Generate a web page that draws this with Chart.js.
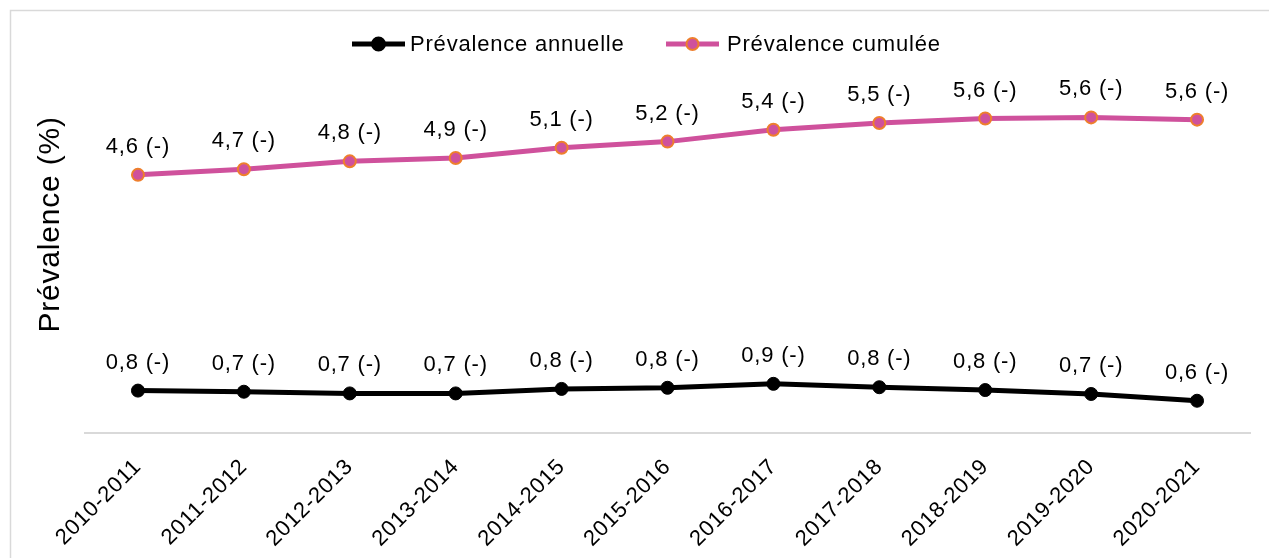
<!DOCTYPE html>
<html>
<head>
<meta charset="utf-8">
<script src="https://cdn.jsdelivr.net/npm/chart.js@4.4.0/dist/chart.umd.min.js"></script>
<style>
  html, body { margin: 0; padding: 0; background: #fff; }
  #box { width: 1269px; height: 558px; }
</style>
</head>
<body>
<div id="box"><canvas id="grafica" width="1269" height="558"></canvas></div>
<script>
const categories = ['2010-2011', '2011-2012', '2012-2013', '2013-2014', '2014-2015', '2015-2016',
    '2016-2017', '2017-2018', '2018-2019', '2019-2020', '2020-2021'];
const annuelle = [0.75, 0.73, 0.70, 0.70, 0.78, 0.80, 0.87, 0.81, 0.76, 0.69, 0.57];
const cumulee = [4.58, 4.68, 4.82, 4.88, 5.06, 5.17, 5.38, 5.50, 5.58, 5.60, 5.56];
const seriesNames = ['Prévalence annuelle', 'Prévalence cumulée'];

const rose = '#CF519C';
const orange = '#EE7F2D';
const fuente = 'Liberation Sans, Arial, sans-serif';

function espaciado(chart) {
    chart.ctx.letterSpacing = '0.8px';
}

// marco gris, etiquetas de valores y leyenda dibujada a mano
const extras = {
    id: 'extras',
    beforeLayout: espaciado,
    beforeDraw(chart) {
        const ctx = chart.ctx;
        espaciado(chart);
        ctx.save();
        ctx.strokeStyle = '#d9d9d9';
        ctx.lineWidth = 1.5;
        ctx.strokeRect(10.5, 10.5, 1300, 600);
        ctx.restore();
    },
    afterDatasetsDraw(chart) {
        const ctx = chart.ctx;
        ctx.save();
        ctx.font = '22px ' + fuente;
        ctx.fillStyle = '#000';
        ctx.textAlign = 'center';
        ctx.textBaseline = 'alphabetic';
        chart.data.datasets.forEach((ds, i) => {
            chart.getDatasetMeta(i).data.forEach((pt, j) => {
                const txt = ds.data[j].toFixed(1).replace('.', ',') + ' (-)';
                ctx.fillText(txt, pt.x, pt.y - 22);
            });
        });

        // leyenda
        const items = [
            {x: 352, gap: 58, line: '#000', fill: '#000', border: '#000', r: 6.5},
            {x: 666, gap: 61, line: rose, fill: rose, border: orange, r: 6}
        ];
        const y = 44;
        ctx.textAlign = 'left';
        ctx.textBaseline = 'middle';
        items.forEach((it, i) => {
            ctx.strokeStyle = it.line;
            ctx.lineWidth = 5;
            ctx.beginPath();
            ctx.moveTo(it.x, y);
            ctx.lineTo(it.x + 53, y);
            ctx.stroke();
            ctx.beginPath();
            ctx.arc(it.x + 26.5, y, it.r, 0, Math.PI * 2);
            ctx.fillStyle = it.fill;
            ctx.fill();
            ctx.lineWidth = 2;
            ctx.strokeStyle = it.border;
            ctx.stroke();
            ctx.fillStyle = '#000';
            ctx.fillText(seriesNames[i], it.x + it.gap, y + 1);
        });
        ctx.restore();
    }
};

const chart = new Chart(document.getElementById('grafica'), {
    type: 'line',
    data: {
        labels: categories,
        datasets: [{
            label: seriesNames[0],
            data: annuelle,
            borderColor: '#000',
            borderWidth: 5,
            pointRadius: 6.5,
            pointBackgroundColor: '#000',
            pointBorderColor: '#000',
            pointBorderWidth: 1,
            tension: 0
        }, {
            label: seriesNames[1],
            data: cumulee,
            borderColor: rose,
            borderWidth: 5,
            pointRadius: 6,
            pointBackgroundColor: rose,
            pointBorderColor: orange,
            pointBorderWidth: 2,
            tension: 0
        }]
    },
    options: {
        responsive: false,
        animation: false,
        layout: { padding: { left: 10, top: 16, right: 19, bottom: -15 } },
        plugins: {
            legend: { display: false },
            tooltip: { enabled: false }
        },
        scales: {
            x: {
                offset: true,
                grid: { display: false, drawTicks: false },
                border: { display: true, color: '#d9d9d9', width: 2 },
                ticks: {
                    color: '#000',
                    font: { family: fuente, size: 22 },
                    maxRotation: 45,
                    minRotation: 45,
                    autoSkip: false,
                    padding: 21
                }
            },
            y: {
                min: 0,
                max: 7.4,
                grid: { display: false, drawTicks: false },
                border: { display: false },
                ticks: { display: false },
                title: {
                    display: true,
                    text: 'Prévalence (%)',
                    color: '#000',
                    font: { family: fuente, size: 30 },
                    padding: { top: 23, bottom: 16 }
                }
            }
        }
    },
    plugins: [extras]
});
</script>
</body>
</html>
